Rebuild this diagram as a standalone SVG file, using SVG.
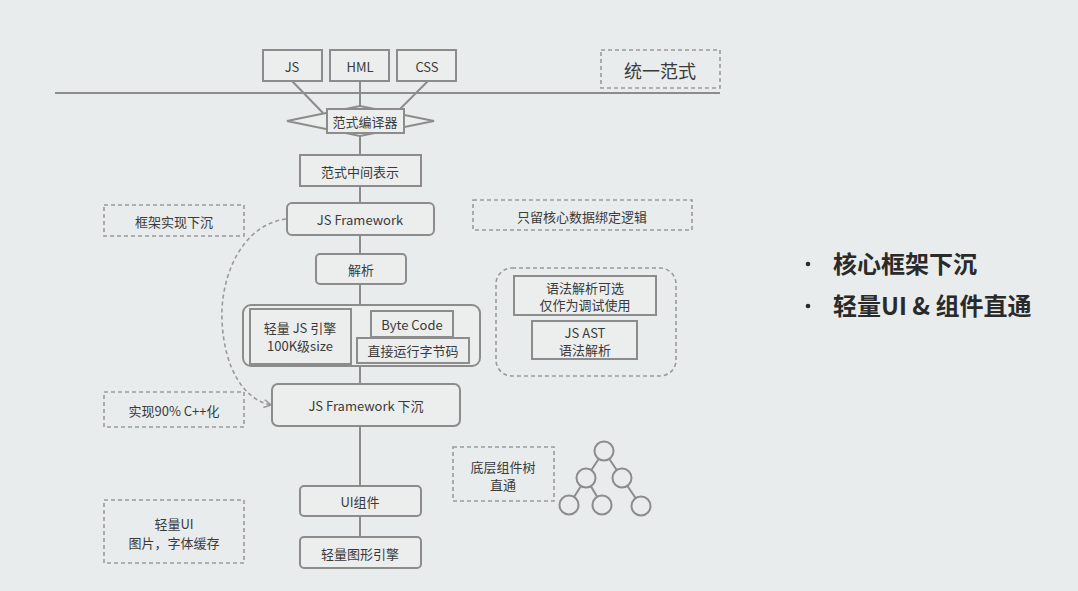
<svg xmlns="http://www.w3.org/2000/svg" width="1078" height="591" viewBox="0 0 1078 591">
<style>
.b{fill:#eceeee;stroke:#8c8c8c;stroke-width:2}
.d{fill:none;stroke:#9a9a9a;stroke-width:1.6;stroke-dasharray:4 3}
.l{stroke:#8c8c8c;stroke-width:2;fill:none}
.t{font-family:"Noto Sans CJK SC","Noto Sans",sans-serif;font-size:13px;fill:#3a3a3a;text-anchor:middle;dominant-baseline:central}
.big{font-family:"Noto Sans CJK SC","Noto Sans",sans-serif;font-size:24px;font-weight:bold;fill:#2a2a2a}
</style>
<defs>
<marker id="ah" markerWidth="10" markerHeight="10" refX="8" refY="5" orient="auto" markerUnits="userSpaceOnUse"><path d="M1,1 L8,5 L1,9" fill="none" stroke="#9a9a9a" stroke-width="1.6"/></marker>
</defs>
<rect width="1078" height="591" fill="#e9ecec"/>
<g id="connectors">
<line class="l" x1="55" y1="93" x2="720" y2="93" stroke-width="3"/>
<line class="l" x1="292" y1="81" x2="323" y2="113"/>
<line class="l" x1="360" y1="81" x2="360" y2="107"/>
<line class="l" x1="428" y1="81" x2="396" y2="113"/>
<line class="l" x1="360" y1="135" x2="360" y2="155"/>
<line class="l" x1="360" y1="186" x2="360" y2="203"/>
<line class="l" x1="360" y1="235" x2="360" y2="254"/>
<line class="l" x1="360" y1="284" x2="360" y2="305"/>
<line class="l" x1="360" y1="366" x2="360" y2="384"/>
<line class="l" x1="360" y1="426" x2="360" y2="486"/>
<line class="l" x1="360" y1="516" x2="360" y2="537"/>
<path class="d" d="M286,219 C240,225 220,280 222,320 C224,370 245,400 271,405" marker-end="url(#ah)"/>
</g>
<g id="js"><rect class="b" x="263" y="50" width="59" height="31"/><text class="t" x="292" y="66">JS</text></g>
<g id="hml"><rect class="b" x="330" y="50" width="59" height="31"/><text class="t" x="360" y="66">HML</text></g>
<g id="css"><rect class="b" x="397" y="50" width="59" height="31"/><text class="t" x="427" y="66">CSS</text></g>
<g id="unify"><rect class="d" x="601" y="50" width="119" height="38"/><text class="t" x="660" y="70" style="font-size:18px">统一范式</text></g>
<g id="compiler">
<polygon class="b" points="287,121 360,106 434,121 360,136"/>
<rect class="b" x="327" y="109" width="77" height="24"/>
<text class="t" x="365" y="121">范式编译器</text>
</g>
<g id="ir"><rect class="b" x="300" y="155" width="121" height="31"/><text class="t" x="360" y="171">范式中间表示</text></g>
<g id="jsfw"><rect class="b" x="287" y="203" width="147" height="32" rx="5"/><text class="t" x="360" y="219">JS Framework</text></g>
<g id="fwsink"><rect class="d" x="104" y="205" width="140" height="31"/><text class="t" x="174" y="221">框架实现下沉</text></g>
<g id="core"><rect class="d" x="473" y="200" width="219" height="30"/><text class="t" x="582" y="216">只留核心数据绑定逻辑</text></g>
<g id="parse"><rect class="b" x="316" y="254" width="90" height="30" rx="4"/><text class="t" x="361" y="269">解析</text></g>
<g id="engine">
<rect class="b" x="243" y="305" width="237" height="61" rx="8"/>
<rect class="b" x="250" y="309" width="101" height="55"/>
<text class="t" x="300" y="327">轻量 JS 引擎</text>
<text class="t" x="300" y="345">100K级size</text>
<rect class="b" x="371" y="311" width="82" height="26"/>
<text class="t" x="412" y="324">Byte Code</text>
<rect class="b" x="357" y="338" width="112" height="25"/>
<text class="t" x="413" y="350">直接运行字节码</text>
</g>
<g id="ast">
<rect class="d" x="496" y="268" width="180" height="108" rx="16"/>
<rect class="b" x="514" y="276" width="142" height="39"/>
<text class="t" x="585" y="287">语法解析可选</text>
<text class="t" x="585" y="304">仅作为调试使用</text>
<rect class="b" x="532" y="321" width="105" height="38"/>
<text class="t" x="585" y="332">JS AST</text>
<text class="t" x="585" y="349">语法解析</text>
</g>
<g id="jsfwsink"><rect class="b" x="272" y="384" width="188" height="42" rx="6"/><text class="t" x="366" y="405">JS Framework 下沉</text></g>
<g id="cpp"><rect class="d" x="104" y="392" width="140" height="35"/><text class="t" x="174" y="410">实现90% C++化</text></g>
<g id="tree-note"><rect class="d" x="453" y="447" width="101" height="54"/><text class="t" x="503" y="466">底层组件树</text><text class="t" x="503" y="484">直通</text></g>
<g id="tree" fill="none" stroke="#8c8c8c" stroke-width="2">
<line x1="604" y1="451" x2="586" y2="478"/><line x1="604" y1="451" x2="622" y2="478"/>
<line x1="586" y1="478" x2="569" y2="505"/><line x1="586" y1="478" x2="602" y2="505"/>
<line x1="622" y1="478" x2="641" y2="506"/>
<circle cx="604" cy="451" r="9.5" fill="#e9ecec"/>
<circle cx="586" cy="478" r="9.5" fill="#e9ecec"/>
<circle cx="622" cy="478" r="9.5" fill="#e9ecec"/>
<circle cx="569" cy="505" r="9.5" fill="#e9ecec"/>
<circle cx="602" cy="505" r="9.5" fill="#e9ecec"/>
<circle cx="641" cy="506" r="9.5" fill="#e9ecec"/>
</g>
<g id="ui"><rect class="b" x="300" y="486" width="121" height="30" rx="4"/><text class="t" x="360" y="501">UI组件</text></g>
<g id="gfx"><rect class="b" x="300" y="537" width="121" height="31" rx="4"/><text class="t" x="360" y="553">轻量图形引擎</text></g>
<g id="lightui"><rect class="d" x="104" y="500" width="140" height="63"/><text class="t" x="174" y="523">轻量UI</text><text class="t" x="174" y="542">图片，字体缓存</text></g>
<g id="bullets">
<circle cx="808" cy="264" r="2.3" fill="#2a2a2a"/>
<text class="big" x="833" y="273">核心框架下沉</text>
<circle cx="808" cy="306" r="2.3" fill="#2a2a2a"/>
<text class="big" x="833" y="315">轻量UI &amp; 组件直通</text>
</g>
</svg>
